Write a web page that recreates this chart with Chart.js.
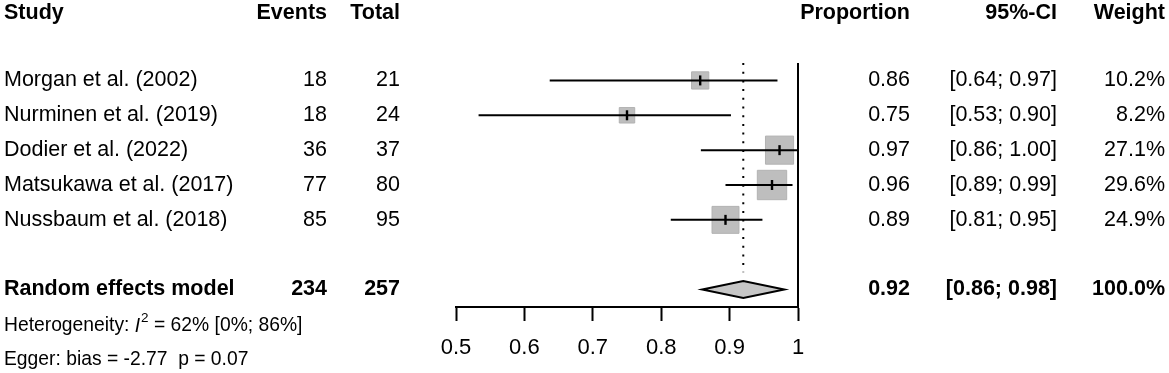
<!DOCTYPE html>
<html>
<head>
<meta charset="utf-8">
<script src="https://cdn.jsdelivr.net/npm/chart.js@4"></script>
<style>
  body { margin: 0; background: #fff; }
  #wrap { width: 1169px; height: 373px; position: relative; }
</style>
</head>
<body>
<div id="wrap"><canvas id="forest"></canvas></div>
<script>
// study data
const studies = ['Morgan et al. (2002)', 'Nurminen et al. (2019)', 'Dodier et al. (2022)', 'Matsukawa et al. (2017)', 'Nussbaum et al. (2018)'];
const events = [18, 18, 36, 77, 85];
const totals = [21, 24, 37, 80, 95];
const proportions = [0.857, 0.750, 0.973, 0.962, 0.894];
const ciLower = [0.637, 0.533, 0.858, 0.894, 0.814];
const ciUpper = [0.970, 0.902, 0.999, 0.992, 0.948];
const weights = [10.2, 8.2, 27.1, 29.6, 24.9];

const pooledEstimate = 0.92;
const pooledCI = [0.86, 0.98];
const pooledLabel = 'Random effects model';
const heterogeneity = { i2: '62%', range: '[0%; 86%]' };
const egger = 'Egger: bias = -2.77  p = 0.07';
const xTicks = [0.5, 0.6, 0.7, 0.8, 0.9, 1];

const FONT = '"Liberation Sans", Arial, sans-serif';
const rows = studies.map((s, i) => i + 1);
const SUMMARY_ROW = 7, HET_ROW = 8.05, EGGER_ROW = 9, HEADER_ROW = -0.93;

function text(ctx, str, x, y, align, bold, size) {
    ctx.font = (bold ? 'bold ' : '') + (size || 21.5) + 'px ' + FONT;
    ctx.textAlign = align || 'left';
    ctx.fillText(str, x, y);
}

const forestPlugin = {
    id: 'forest',
    beforeDatasetsDraw(chart) {
        const { ctx, scales: { x, y } } = chart;
        // dotted line at the pooled estimate
        ctx.save();
        ctx.strokeStyle = '#000';
        ctx.lineWidth = 2;
        ctx.setLineDash([2, 6.7]);
        const px = x.getPixelForValue(pooledEstimate);
        ctx.beginPath();
        ctx.moveTo(px, chart.chartArea.top);
        ctx.lineTo(px, y.getPixelForValue(SUMMARY_ROW - 0.5));
        ctx.stroke();
        ctx.restore();
    },
    afterDatasetsDraw(chart) {
        const { ctx, chartArea, scales: { x, y } } = chart;
        ctx.save();
        ctx.strokeStyle = '#000';
        ctx.fillStyle = '#000';

        // confidence intervals and estimate ticks
        rows.forEach((r, i) => {
            const py = y.getPixelForValue(r);
            ctx.lineWidth = 2;
            ctx.beginPath();
            ctx.moveTo(x.getPixelForValue(ciLower[i]), py);
            ctx.lineTo(x.getPixelForValue(ciUpper[i]), py);
            ctx.stroke();
            ctx.lineWidth = 2.4;
            const ex = x.getPixelForValue(proportions[i]);
            ctx.beginPath();
            ctx.moveTo(ex, py - 5);
            ctx.lineTo(ex, py + 5);
            ctx.stroke();
        });

        // solid reference line at 1
        ctx.lineWidth = 2;
        const rx = x.getPixelForValue(1);
        ctx.beginPath();
        ctx.moveTo(rx, chartArea.top);
        ctx.lineTo(rx, chartArea.bottom);
        ctx.stroke();

        // pooled diamond
        const sy = y.getPixelForValue(SUMMARY_ROW);
        ctx.beginPath();
        ctx.moveTo(x.getPixelForValue(pooledCI[0]), sy);
        ctx.lineTo(x.getPixelForValue(pooledEstimate), sy - 8.5);
        ctx.lineTo(x.getPixelForValue(pooledCI[1]), sy);
        ctx.lineTo(x.getPixelForValue(pooledEstimate), sy + 8.5);
        ctx.closePath();
        ctx.fillStyle = '#c6c6c6';
        ctx.fill();
        ctx.lineWidth = 2;
        ctx.stroke();

        // table text
        ctx.fillStyle = '#000';
        ctx.textBaseline = 'middle';
        const hy = y.getPixelForValue(HEADER_ROW);
        text(ctx, 'Study', 4, hy, 'left', true);
        text(ctx, 'Events', 327, hy, 'right', true);
        text(ctx, 'Total', 400, hy, 'right', true);
        text(ctx, 'Proportion', 910, hy, 'right', true);
        text(ctx, '95%-CI', 1057, hy, 'right', true);
        text(ctx, 'Weight', 1165, hy, 'right', true);

        rows.forEach((r, i) => {
            const py = y.getPixelForValue(r);
            text(ctx, studies[i], 4, py, 'left');
            text(ctx, String(events[i]), 327, py, 'right');
            text(ctx, String(totals[i]), 400, py, 'right');
            text(ctx, proportions[i].toFixed(2), 910, py, 'right');
            text(ctx, '[' + ciLower[i].toFixed(2) + '; ' + ciUpper[i].toFixed(2) + ']', 1057, py, 'right');
            text(ctx, weights[i].toFixed(1) + '%', 1165, py, 'right');
        });

        const totalW = weights.reduce((a, b) => a + b, 0);
        text(ctx, pooledLabel, 4, sy, 'left', true);
        text(ctx, String(events.reduce((a, b) => a + b, 0)), 327, sy, 'right', true);
        text(ctx, String(totals.reduce((a, b) => a + b, 0)), 400, sy, 'right', true);
        text(ctx, pooledEstimate.toFixed(2), 910, sy, 'right', true);
        text(ctx, '[' + pooledCI[0].toFixed(2) + '; ' + pooledCI[1].toFixed(2) + ']', 1057, sy, 'right', true);
        text(ctx, totalW.toFixed(1) + '%', 1165, sy, 'right', true);

        // heterogeneity line with italic I and superscript 2
        const ty = y.getPixelForValue(HET_ROW);
        let tx = 4;
        ctx.textAlign = 'left';
        ctx.font = '19.3px ' + FONT;
        ctx.fillText('Heterogeneity: ', tx, ty);
        tx += ctx.measureText('Heterogeneity: ').width;
        ctx.font = 'italic 19.3px ' + FONT;
        ctx.fillText('I', tx, ty);
        tx += ctx.measureText('I').width + 1;
        ctx.font = '13.5px ' + FONT;
        ctx.fillText('2', tx, ty - 8);
        tx += ctx.measureText('2').width;
        ctx.font = '19.3px ' + FONT;
        ctx.fillText(' = ' + heterogeneity.i2 + ' ' + heterogeneity.range, tx, ty);

        text(ctx, egger, 4, y.getPixelForValue(EGGER_ROW), 'left', false, 19.3);
        ctx.restore();
    }
};

new Chart(document.getElementById('forest'), {
    type: 'scatter',
    data: {
        datasets: [{
            label: 'Studies',
            data: proportions.map((p, i) => ({ x: p, y: rows[i] })),
            pointStyle: 'rect',
            // rect side = sqrt(2) * radius, box side grows with sqrt(weight)
            pointRadius: weights.map(w => 5.4 * Math.sqrt(w) / Math.SQRT2),
            backgroundColor: '#bebebe',
            borderColor: '#b2b2b2',
            borderWidth: 1,
            clip: false
        }]
    },
    options: {
        responsive: true,
        maintainAspectRatio: false,
        animation: false,
        events: [],
        layout: { padding: { left: 456, right: 371, top: 63, bottom: 0 } },
        plugins: { legend: { display: false }, tooltip: { enabled: false } },
        scales: {
            x: {
                type: 'linear',
                min: 0.5,
                max: 1,
                afterBuildTicks: s => { s.ticks = xTicks.map(v => ({ value: v })); },
                afterFit: s => { s.height = 66; },
                ticks: {
                    color: '#000',
                    font: { size: 22, family: FONT },
                    padding: 14,
                    maxRotation: 0,
                    callback: v => (v === 1 ? '1' : v.toFixed(1))
                },
                grid: { drawOnChartArea: false, drawTicks: true, tickLength: 14, tickColor: '#000', tickWidth: 2 },
                border: { display: true, color: '#000', width: 2 }
            },
            y: {
                display: false,
                reverse: true,
                min: 0.5,
                max: 7.5
            }
        }
    },
    plugins: [forestPlugin]
});
</script>
</body>
</html>
